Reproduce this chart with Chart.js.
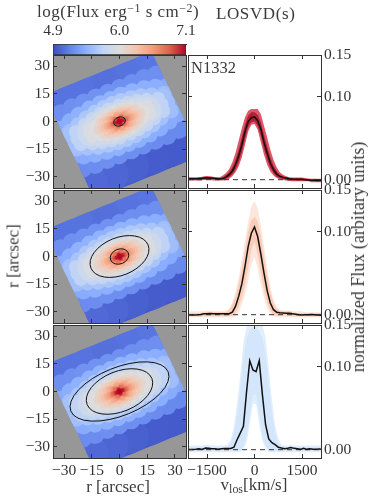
<!DOCTYPE html>
<html>
<head>
<meta charset="utf-8">
<title>N1332</title>
<script src="https://cdn.jsdelivr.net/npm/chart.js@4/dist/chart.umd.min.js"></script>
<style>
html,body{margin:0;padding:0;background:#fff;}
#page{position:relative;width:374px;height:499px;overflow:hidden;}
canvas{position:absolute;left:0;top:0;}
.t{position:absolute;font-family:"Liberation Serif",serif;color:#3a3a3a;white-space:nowrap;line-height:1;}
.t sup{font-size:70%;line-height:0;vertical-align:baseline;position:relative;top:-.45em;}
.t sub{font-size:70%;line-height:0;vertical-align:baseline;position:relative;top:.25em;}
</style>
</head>
<body>
<div id="page">
<canvas id="cbar" width="374" height="499"></canvas>
<canvas id="map1" width="374" height="499"></canvas>
<canvas id="map2" width="374" height="499"></canvas>
<canvas id="map3" width="374" height="499"></canvas>
<canvas id="los1" width="374" height="499"></canvas>
<canvas id="los2" width="374" height="499"></canvas>
<canvas id="los3" width="374" height="499"></canvas>
<div class="t" style="left:37px;top:3px;font-size:17px;letter-spacing:.5px">log(Flux erg<sup>−1</sup> s cm<sup>−2</sup>)</div>
<div class="t" style="left:216px;top:5px;font-size:17px;letter-spacing:.6px">LOSVD(s)</div>
<div class="t" style="left:191px;top:60px;font-size:16.5px">N1332</div>
<div class="t" style="left:13px;top:256px;font-size:17px;transform:translate(-50%,-50%) rotate(-90deg)">r [arcsec]</div>
<div class="t" style="left:118px;top:486px;font-size:17px;transform:translate(-50%,-50%)">r [arcsec]</div>
<div class="t" style="left:254px;top:484px;font-size:17px;transform:translate(-50%,-50%)">v<sub>los</sub>[km/s]</div>
<div class="t" style="left:358px;top:257px;font-size:18px;transform:translate(-50%,-50%) rotate(-90deg)">normalized Flux (arbitary units)</div>
</div>
<script>
// colour bar
const cbarTicks = [4.9, 6.0, 7.1];
const cbarStops = [[59,76,192],[98,130,234],[141,176,254],[192,212,245],[221,221,221],[244,196,173],[244,154,123],[222,97,77],[180,4,38]];

// axes
const rTicks = [-30, -15, 0, 15, 30];
const velTicks = [-1500, 0, 1500];
const fluxTicks = [0, 0.10, 0.15];

// spatial bins, in the frame of the field of view (arcsec from the nucleus)
const fovPA = 22;
const fovX = [-40.7, 17.3, 44.5, -13.5];
const fovY = [14.3, 37.8, -18.3, -42];
const binU = [
  -26,-15,-4,7,18,30,
  -27,-15,-3,9,21,32,
  -25,-12,1,14,27,
  -35,-28,-21,-14,-7,0,7,14,21,28,35,
  -35,-28,-21,-14,-7,0,7,14,21,28,35,
  -31,-25,-19,-12.5,-6,0,6,12.5,19,25,31,
  -31,-25,-19,-12.5,-6,0,6,12.5,19,25,31,
  -31,-31,-31,33,33,33,
  -27,-21.5,-16,-10.5,-5,0,5,10.5,16,21.5,27,
  -27,-21.5,-16,-10.5,-5,0,5,10.5,16,21.5,27,
  -27,-27,-27,28,28,28,
  -23,-18,-13,-8,-3,3,8,13,18,23,
  -23,-18,-13,-8,-3,3,8,13,18,23,
  -24,-24.5,-24,24,24.5,24,
  -18,-14,-10,-6,-2,2,6,10,14,18,
  -18,-14,-10,-6,-2,2,6,10,14,18,
  -20,-20.5,-20,20,20.5,20,
  17,17,-17,-17,17.5,-17.5,
  14.5,-14.5,12.5,12.5,-12.5,-12.5,9,9,-9,-9,4.5,4.5,-4.5,-4.5,0,0,
  12.2,-12.2,10,10,-10,-10,6.5,6.5,-6.5,-6.5,2.2,2.2,-2.2,-2.2,
  10.2,-10.2,8,8,-8,-8,4,4,-4,-4,0,0,
  8.4,-8.4,6,6,-6,-6,2,2,-2,-2,
  6.8,-6.8,4.2,4.2,-4.2,-4.2,0,0,
  5.5,-5.5,3,3,-3,-3,0,0,
  4.2,-4.2,2,2,-2,-2,
  3.4,-3.4,1.5,1.5,-1.5,-1.5,
  2.6,-2.6,0,0,
  1.9,-1.9,0,0,
  1.3,-1.3,0,0,
  0
];
const binV = [
  26,26,26,26,26,26,
  -25,-25,-25,-25,-25,-25,
  -32,-32,-32,-32,-32,
  15,16,16.7,16.7,16.7,16.7,16.7,16.7,16.7,16,15,
  -15,-16,-16.7,-16.7,-16.7,-16.7,-16.7,-16.7,-16.7,-16,-15,
  8,10,11.5,12.5,13,13,13,12.5,11.5,10,8,
  -8,-10,-11.5,-12.5,-13,-13,-13,-12.5,-11.5,-10,-8,
  -6,0,6,-6,0,6,
  3.7,6.7,8.5,9.6,10.3,10.5,10.3,9.6,8.5,6.7,3.7,
  -3.7,-6.7,-8.5,-9.6,-10.3,-10.5,-10.3,-9.6,-8.5,-6.7,-3.7,
  -5,0,5,-5,0,5,
  2.8,5.4,6.9,7.8,8.3,8.3,7.8,6.9,5.4,2.8,
  -2.8,-5.4,-6.9,-7.8,-8.3,-8.3,-7.8,-6.9,-5.4,-2.8,
  -3.5,0,3.5,-3.5,0,3.5,
  3.5,5,6,6.8,7,7,6.8,6,5,3.5,
  -3.5,-5,-6,-6.8,-7,-7,-6.8,-6,-5,-3.5,
  -2.2,0,2.2,-2.2,0,2.2,
  2.5,-2.5,2.5,-2.5,0,0,
  0,0,3.2,-3.2,3.2,-3.2,4.9,-4.9,4.9,-4.9,5.9,-5.9,5.9,-5.9,6.2,-6.2,
  0,0,3.1,-3.1,3.1,-3.1,4.6,-4.6,4.6,-4.6,5.4,-5.4,5.4,-5.4,
  0,0,2.9,-2.9,2.9,-2.9,4.3,-4.3,4.3,-4.3,4.7,-4.7,
  0,0,2.8,-2.8,2.8,-2.8,3.9,-3.9,3.9,-3.9,
  0,0,2.7,-2.7,2.7,-2.7,3.4,-3.4,
  0,0,2.3,-2.3,2.3,-2.3,2.8,-2.8,
  0,0,2,-2,2,-2,
  0,0,1.6,-1.6,1.6,-1.6,
  0,0,1.5,-1.5,
  0,0,1.1,-1.1,
  0,0,.7,-.7,
  0
];
const binFlux = [
  5.1,5.1,5.08,5.08,5.1,5.11,
  5.05,5.03,5,4.98,4.97,4.97,
  5,4.98,4.96,4.95,4.95,
  5.24,5.25,5.26,5.27,5.27,5.27,5.26,5.25,5.25,5.25,5.24,
  5.22,5.23,5.24,5.25,5.25,5.25,5.24,5.23,5.22,5.22,5.2,
  5.42,5.44,5.46,5.47,5.47,5.47,5.47,5.46,5.45,5.44,5.42,
  5.4,5.42,5.44,5.45,5.46,5.46,5.45,5.44,5.43,5.42,5.4,
  5.42,5.42,5.42,5.4,5.41,5.4,
  5.58,5.6,5.62,5.63,5.64,5.64,5.64,5.63,5.62,5.6,5.58,
  5.57,5.59,5.61,5.62,5.63,5.63,5.62,5.61,5.6,5.58,5.56,
  5.56,5.56,5.56,5.55,5.56,5.55,
  5.73,5.75,5.76,5.77,5.78,5.78,5.77,5.76,5.75,5.73,
  5.72,5.74,5.75,5.76,5.77,5.77,5.76,5.75,5.74,5.72,
  5.72,5.72,5.72,5.71,5.72,5.71,
  5.85,5.87,5.88,5.89,5.9,5.9,5.89,5.88,5.87,5.85,
  5.84,5.86,5.87,5.88,5.89,5.89,5.88,5.87,5.86,5.84,
  5.84,5.84,5.84,5.84,5.84,5.84,
  5.95,5.95,5.95,5.95,5.95,5.95,
  6,6,6,6,6,6,6.01,6.01,6.01,6.01,6.01,6.01,6.01,6.01,6.01,6.01,
  6.1,6.1,6.1,6.1,6.1,6.1,6.1,6.1,6.1,6.1,6.1,6.1,6.1,6.1,
  6.2,6.2,6.2,6.2,6.2,6.2,6.2,6.2,6.2,6.2,6.2,6.2,
  6.3,6.3,6.3,6.3,6.3,6.3,6.3,6.3,6.3,6.3,
  6.4,6.4,6.4,6.4,6.4,6.4,6.4,6.4,
  6.5,6.5,6.5,6.5,6.5,6.5,6.5,6.5,
  6.62,6.62,6.62,6.62,6.62,6.62,
  6.75,6.75,6.75,6.75,6.75,6.75,
  6.85,6.85,6.85,6.85,
  6.97,6.97,6.97,6.97,
  7.05,7.05,7.05,7.05,
  7.1
];

// aperture ellipses, semi axes in arcsec
const apertureA = [[3.25], [5.15, 16.7], [18.9, 28.4]];
const apertureB = [[2.37], [4, 10.2], [10.9, 13]];

// LOSVD, km/s and normalized flux
const velA = [-2100,-2000,-1900,-1800,-1700,-1600,-1500,-1400,-1300,-1200,-1100,-1000,-900,-800,-700,-600,-500,-400,-300,-200,-100,0,100,200,300,400,500,600,700,800,900,1000,1100,1200,1300,1400,1500,1600,1700,1800,1900,2000,2100];
const velB = [-2100,-2050,-1950,-1850,-1750,-1650,-1550,-1450,-1350,-1250,-1150,-1050,-950,-850,-750,-650,-550,-450,-350,-250,-150,-50,50,150,250,350,450,550,650,750,850,950,1050,1150,1250,1350,1450,1550,1650,1750,1850,1950,2050,2100];

const mean1 = [.001,.001,.0012,.0013,.0015,.002,.0022,.002,.0016,.0014, .0012,.0015,.003,.006,.0105,.018,.0285,.042,.058,.070, .0745,.0755,.071,.061,.045,.032,.020,.012,.0065,.004, .0028,.002,.0012,.0008,.0005,.0006,.0004,0,-.0004,-.0006,-.0008,-.001,-.0006];
const hiOut1 = [.003,.003,.003,.003,.003,.004,.0045,.004,.0035,.003, .003,.005,.008,.013,.021,.032,.047,.062,.075,.083, .085,.085,.085,.079,.065,.051,.036,.024,.015,.009, .006,.004,.003,.0025,.0025,.0025,.0025,.002,.0015,.001,.001,.001,.001];
const loOut1 = [-.001,-.001,-.001,-.001,-.001,-.0005,-.0005,-.0005,-.001,-.001, -.001,-.001,-.0005,.001,.004,.009,.016,.027,.042,.058, .066,.067,.060,.045,.030,.018,.010,.005,.002,.0005, -.0005,-.001,-.0015,-.002,-.002,-.002,-.002,-.002,-.002,-.003,-.003,-.003,-.003];
const hiIn1 = [.002,.002,.002,.002,.0025,.003,.0035,.003,.0025,.002, .002,.003,.0055,.009,.015,.024,.036,.051,.066,.077, .081,.081,.078,.069,.054,.04,.027,.017,.0105,.006, .004,.003,.002,.0015,.0015,.0015,.001,.001,.0005,0,0,0,0];
const loIn1 = [0,0,0,0,0,.0005,.001,.0005,.0005,0, 0,0,.001,.003,.0065,.012,.021,.033,.049,.063, .069,.07,.065,.053,.037,.024,.014,.008,.0035,.002, .001,0,-.0005,-.001,-.001,-.001,-.001,-.001,-.001,-.002,-.002,-.002,-.002];

const mean2 = [-.0002,-.0005,-.0005,-.0002,.0002,.0012,.0012,.0015,.0012,.0012, .0012,.001,.0012,.0012,.003,.010,.022,.037,.058,.082, .098,.1056,.094,.073,.05,.029,.014,.006,.003,.0022, .002,.0018,.0018,.001,.0005,-.0002,-.0004,-.0002,0,.0002,-.0002,-.0005,-.0006];
const hiOut2 = [.004,.004,.004,.004,.004,.004,.005,.005,.004,.004, .004,.004,.005,.007,.015,.027,.045,.066,.09,.112, .13,.137,.128,.108,.083,.056,.034,.018,.009,.006, .005,.005,.005,.004,.004,.004,.004,.003,.003,.003,.003,.003,.003];
const loOut2 = [-.003,-.003,-.003,-.003,-.003,-.003,-.003,-.003,-.003,-.003, -.003,-.003,-.003,-.003,-.003,-.001,.003,.012,.024,.04, .06,.07,.055,.036,.02,.008,.001,-.002,-.003,-.003, -.003,-.003,-.003,-.003,-.003,-.003,-.003,-.003,-.003,-.003,-.003,-.003,-.003];
const hiIn2 = [.002,.002,.002,.002,.002,.003,.003,.003,.003,.003, .003,.003,.003,.005,.012,.022,.037,.056,.078,.10, .114,.118,.112,.095,.07,.047,.027,.014,.007,.005, .004,.004,.004,.003,.002,.002,.002,.002,.002,.002,.002,.002,.002];
const loIn2 = [-.002,-.002,-.002,-.002,-.002,-.002,-.002,-.002,-.002,-.002, -.002,-.002,-.002,-.002,-.001,.002,.01,.02,.036,.056, .078,.088,.072,.05,.03,.014,.005,0,-.001,-.001, -.001,-.001,-.001,-.002,-.002,-.002,-.002,-.002,-.002,-.002,-.002,-.002,-.002];

const mean3 = [.0005,.0002,.0003,.0006,.001,.0002,.002,.0016,.001,.0012, .0006,.001,.0014,.0014,.0014,.003,.012,.02,.028,.07, .107,.096,.094,.107,.066,.03,.013,.0085,.006,.003, .002,.0012,.0018,.0026,.0016,.0012,.0004,.0018,.0004,.0012,.0005,.0005,.0008,.0006];
const hiOut3 = [.005,.005,.005,.005,.005,.005,.006,.006,.005,.005, .005,.005,.005,.006,.012,.028,.056,.09,.13,.148, .152,.158,.156,.152,.15,.135,.098,.06,.03,.014, .006,.005,.005,.006,.005,.005,.005,.005,.005,.005,.005,.005,.005,.005];
const loOut3 = [-.003,-.003,-.003,-.003,-.003,-.003,-.003,-.003,-.003,-.003, -.003,-.003,-.003,-.003,-.003,-.003,-.003,-.003,.001,.008, .03,.055,.055,.03,.01,.002,-.003,-.003,-.003,-.003, -.003,-.003,-.003,-.003,-.003,-.003,-.003,-.003,-.003,-.003,-.003,-.003,-.003,-.003];
const hiIn3 = [.003,.003,.003,.003,.003,.003,.003,.003,.003,.003, .003,.003,.003,.004,.008,.02,.042,.072,.112,.134, .144,.148,.148,.142,.134,.114,.08,.045,.02,.009, .004,.003,.003,.003,.003,.003,.003,.003,.003,.003,.003,.003,.003,.003];
const loIn3 = [-.001,-.001,-.001,-.001,-.001,-.001,-.001,-.001,-.001,-.001, -.001,-.001,-.001,-.001,-.001,-.001,-.001,-.001,.004,.016, .042,.066,.066,.042,.018,.005,-.001,-.001,-.001,-.001, -.001,-.001,-.001,-.001,-.001,-.001,-.001,-.001,-.001,-.001,-.001,-.001,-.001,-.001];

Chart.defaults.animation = false;
Chart.defaults.responsive = false;
Chart.defaults.events = [];
Chart.defaults.font.family = '"Liberation Serif", serif';
Chart.defaults.plugins.legend.display = false;
Chart.defaults.plugins.tooltip.enabled = false;

const INK = '#333';
const rad = fovPA * Math.PI / 180;
const rows = [[55, 188], [190, 323], [325, 458]];
const leftCol = [53, 186], rightCol = [188, 321];
const labelRoom = 44; // room kept for tick labels, scale labels are clipped to their box

const rgb = c => `rgb(${c[0]},${c[1]},${c[2]})`;
function fluxColor(f){
  const t = Math.min(Math.max((f - 4.9) / 2.2, 0), 1) * (cbarStops.length - 1);
  const i = Math.min(Math.floor(t), cbarStops.length - 2), w = t - i;
  return rgb(cbarStops[i].map((c, k) => Math.round(c + (cbarStops[i+1][k] - c) * w)));
}
// bins shrink towards the bright nucleus
const radiusFlux = [5.12, 5.18, 5.45, 5.65, 5.85, 6, 6.2, 6.4, 6.6, 6.8, 7, 7.1];
const radiusArc = [9.5, 5.2, 4.5, 4, 3.5, 3, 2.6, 2.2, 1.8, 1.4, 1.1, 1.2];
function binRadius(f){
  if(f <= radiusFlux[0]) return radiusArc[0];
  for(let i=1;i<radiusFlux.length;i++){
    if(f <= radiusFlux[i]){
      const w = (f - radiusFlux[i-1]) / (radiusFlux[i] - radiusFlux[i-1]);
      return radiusArc[i-1] + (radiusArc[i] - radiusArc[i-1]) * w;
    }
  }
  return radiusArc.at(-1);
}

function axis(position, min, max, values, showLabels, format){
  const room = showLabels ? labelRoom : 0;
  return {
    type:'linear', position, min, max,
    afterBuildTicks: s => { s.ticks = values.map(value => ({value})); },
    afterFit: s => { if(s.isHorizontal()) s.height = room; else s.width = room; },
    grid:{drawOnChartArea:false, drawTicks:true, tickLength:-4, color:INK, lineWidth:1, z:1},
    border:{display:true, color:INK, width:1, z:1},
    ticks:{display:showLabels, autoSkip:false, maxRotation:0, padding:position==='bottom'?8:7, color:INK, font:{size:15.5}, callback:format}
  };
}
const rLabel = v => String(v).replace('-', '\u2212');
const fluxLabel = v => v.toFixed(2);

// gray field behind the map, and the map clipped to the field of view
const mapPlugin = {
  id:'mapField',
  beforeDatasetsDraw(chart){
    const {ctx, chartArea:a} = chart;
    ctx.save(); ctx.fillStyle = '#979797';
    ctx.fillRect(a.left, a.top, a.width, a.height); ctx.restore();
  },
  beforeDatasetDraw(chart){
    const {ctx, chartArea:a, scales:{x, y}} = chart;
    ctx.save();
    ctx.beginPath(); ctx.rect(a.left, a.top, a.width, a.height); ctx.clip();
    ctx.beginPath();
    fovX.forEach((fx, i) => ctx.lineTo(x.getPixelForValue(fx), y.getPixelForValue(fovY[i])));
    ctx.closePath(); ctx.clip();
  },
  afterDatasetDraw(chart){ chart.ctx.restore(); },
  afterDatasetsDraw(chart, args, opts){
    const {ctx, scales:{x, y}} = chart;
    const sx = Math.abs(x.getPixelForValue(1) - x.getPixelForValue(0));
    const sy = Math.abs(y.getPixelForValue(1) - y.getPixelForValue(0));
    ctx.save(); ctx.strokeStyle = '#111'; ctx.lineWidth = 1;
    opts.a.forEach((a, i) => {
      ctx.beginPath();
      ctx.ellipse(x.getPixelForValue(0), y.getPixelForValue(0), a*sx, opts.b[i]*sy, -rad, 0, Math.PI*2);
      ctx.stroke();
    });
    ctx.restore();
  }
};

const binPoints = binU.map((u, i) => ({
  x: u*Math.cos(rad) - binV[i]*Math.sin(rad),
  y: u*Math.sin(rad) + binV[i]*Math.cos(rad),
  f: binFlux[i]
})).sort((p, q) => p.f - q.f);

function drawMap(id, row, n){
  const last = n === 2;
  new Chart(document.getElementById(id), {
    type:'scatter',
    data:{datasets:[{
      data: binPoints,
      backgroundColor: c => fluxColor(c.raw.f),
      borderWidth:0,
      pointRadius: c => binRadius(c.raw.f) * Math.abs(c.chart.scales.x.getPixelForValue(1) - c.chart.scales.x.getPixelForValue(0)),
      clip:false
    }]},
    options:{
      layout:{padding:{left:leftCol[0]-labelRoom, right:374-leftCol[1], top:row[0], bottom:499-row[1]-(last?labelRoom:0)}},
      plugins:{mapField:{a:apertureA[n], b:apertureB[n]}},
      scales:{
        x: axis('bottom', -36, 36, rTicks, last, rLabel),
        y: axis('left', -36, 36, rTicks, true, rLabel),
        x2: axis('top', -36, 36, rTicks, false),
        y2: axis('right', -36, 36, rTicks, false)
      }
    },
    plugins:[mapPlugin]
  });
}

const curve = (v, ys) => v.map((x, i) => ({x, y:ys[i]}));
const band = (v, ys, fill, color) => ({data:curve(v, ys), showLine:true, pointRadius:0, borderWidth:0, borderColor:'transparent', fill, backgroundColor:color});

function drawLosvd(id, row, last, v, mean, hiIn, loIn, hiOut, loOut, cIn, cOut){
  new Chart(document.getElementById(id), {
    type:'scatter',
    data:{datasets:[
      {data:curve(v, mean), showLine:true, pointRadius:0, borderColor:'#111', borderWidth:1.5, fill:false},
      {data:curve([-2100, 2100], [0, 0]), showLine:true, pointRadius:0, borderColor:'#333', borderWidth:1, borderDash:[5,4], fill:false},
      band(v, hiIn, '+1', cIn), band(v, loIn, false, cIn),
      band(v, hiOut, '+1', cOut), band(v, loOut, false, cOut)
    ]},
    options:{
      layout:{padding:{left:rightCol[0], right:374-rightCol[1]-labelRoom, top:row[0], bottom:499-row[1]-(last?labelRoom:0)}},
      scales:{
        x: axis('bottom', -2100, 2100, velTicks, last, rLabel),
        y: axis('right', -0.01, 0.15, fluxTicks, true, fluxLabel),
        x2: axis('top', -2100, 2100, velTicks, false),
        y2: axis('left', -0.01, 0.15, fluxTicks, false)
      }
    }
  });
}

// colour bar: one floating bar from the lowest to the highest flux
new Chart(document.getElementById('cbar'), {
  type:'bar',
  data:{labels:['flux'], datasets:[{
    data:[[cbarTicks[0], cbarTicks[2]]],
    categoryPercentage:1, barPercentage:1, borderWidth:1, borderColor:INK, borderSkipped:false,
    backgroundColor: c => {
      const {ctx, chartArea:a} = c.chart;
      if(!a) return '#ccc';
      const g = ctx.createLinearGradient(a.left, 0, a.right, 0);
      cbarStops.forEach((s, i) => g.addColorStop(i/(cbarStops.length-1), rgb(s)));
      return g;
    }
  }]},
  options:{
    indexAxis:'y',
    layout:{padding:{left:leftCol[0], right:374-leftCol[1], top:44-labelRoom, bottom:499-55}},
    scales:{
      x:{type:'linear', position:'top', min:cbarTicks[0], max:cbarTicks[2],
        afterBuildTicks: s => { s.ticks = cbarTicks.map(value => ({value})); },
        afterFit: s => { s.height = labelRoom; },
        grid:{drawOnChartArea:false, drawTicks:false},
        border:{display:true, color:INK, width:1},
        ticks:{autoSkip:false, maxRotation:0, padding:4, color:INK, font:{size:15.5}, callback:v => v.toFixed(1)}},
      y:{type:'category', position:'left', afterFit: s => { s.width = 0; },
        grid:{display:false}, border:{display:false}, ticks:{display:false}}
    }
  }
});

drawMap('map1', rows[0], 0);
drawMap('map2', rows[1], 1);
drawMap('map3', rows[2], 2);
drawLosvd('los1', rows[0], false, velA, mean1, hiIn1, loIn1, hiOut1, loOut1, '#b41e36', '#dc5a68');
drawLosvd('los2', rows[1], false, velA, mean2, hiIn2, loIn2, hiOut2, loOut2, '#fbcdb8', '#fde6dc');
drawLosvd('los3', rows[2], true, velB, mean3, hiIn3, loIn3, hiOut3, loOut3, '#d4e6fb', '#e2eefc');
</script>
</body>
</html>
